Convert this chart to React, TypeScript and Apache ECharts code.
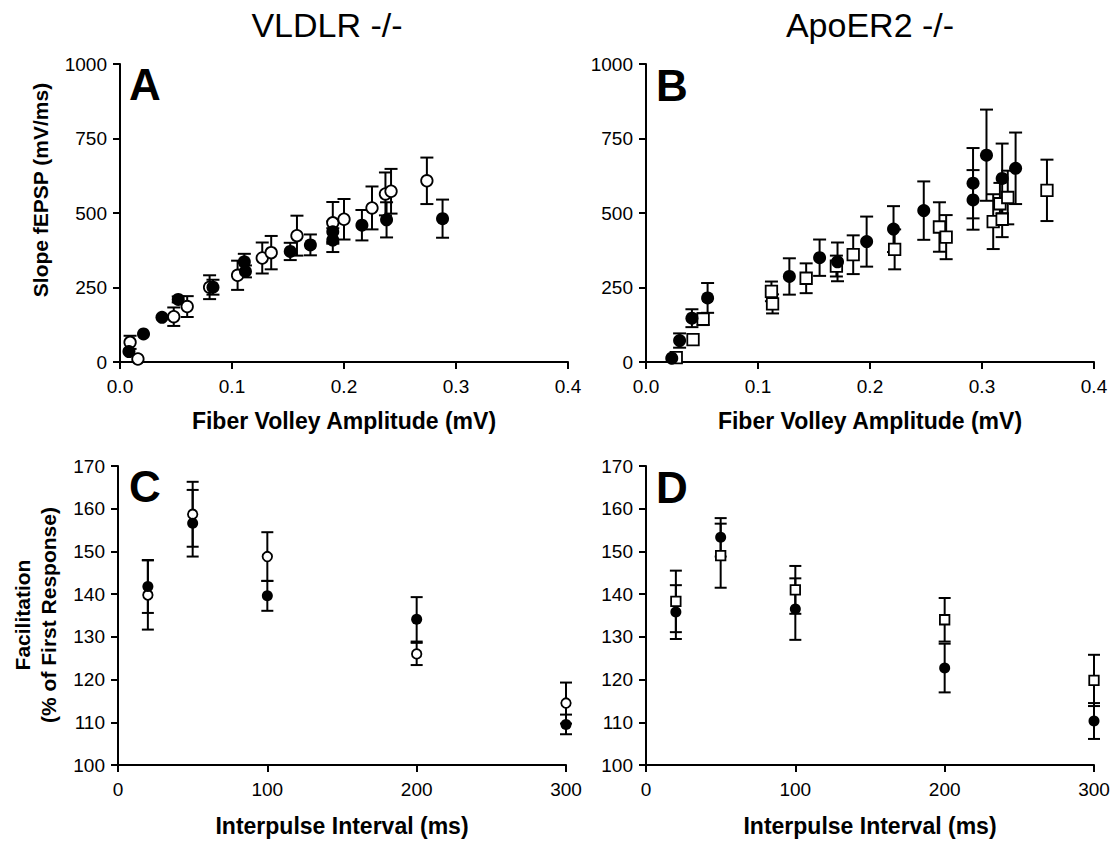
import React, { useEffect, useRef } from 'react';
import * as echarts from 'echarts';

const FONT = '"Liberation Sans", Arial, Helvetica, sans-serif';

// ---- Panel A (VLDLR -/-): Slope fEPSP vs Fiber Volley Amplitude ----
const aFilledX = [0.008, 0.021, 0.0375, 0.052, 0.083, 0.111, 0.112, 0.152, 0.170, 0.190, 0.190, 0.216, 0.238, 0.288];
const aFilledY = [35, 94, 150, 210, 251, 336, 304, 371, 393, 409, 437, 459, 477, 481];
const aFilledErr = [0, 0, 0, 10, 25, 27, 20, 29, 35, 40, 35, 51, 59, 64];

const aOpenX = [0.009, 0.016, 0.048, 0.060, 0.080, 0.105, 0.127, 0.135, 0.158, 0.190, 0.200, 0.225, 0.237, 0.242, 0.274];
const aOpenY = [66, 10, 152, 186, 251, 291, 349, 367, 424, 467, 479, 517, 564, 573, 608];
const aOpenErr = [22, 0, 31, 35, 40, 49, 52, 56, 67, 70, 68, 72, 72, 75, 78];

// ---- Panel B (ApoER2 -/-) ----
const bFilledX = [0.023, 0.030, 0.041, 0.055, 0.128, 0.155, 0.171, 0.197, 0.221, 0.248, 0.292, 0.292, 0.304, 0.318, 0.330];
const bFilledY = [13, 72, 147, 215, 287, 350, 336, 404, 446, 508, 600, 544, 694, 616, 650];
const bFilledErr = [0, 24, 30, 50, 61, 61, 65, 84, 77, 98, 118, 100, 153, 117, 120];

const bOpenX = [0.027, 0.042, 0.051, 0.112, 0.113, 0.143, 0.170, 0.185, 0.222, 0.262, 0.268, 0.310, 0.316, 0.318, 0.323, 0.358];
const bOpenY = [15, 75, 144, 237, 195, 281, 322, 360, 378, 453, 419, 471, 531, 479, 552, 576];
const bOpenErr = [0, 0, 20, 33, 32, 50, 35, 65, 67, 83, 74, 92, 70, 60, 90, 103];

// ---- Panels C and D: Facilitation vs Interpulse Interval ----
const intervals = [20, 50, 100, 200, 300];
const cFilled = [141.8, 156.6, 139.6, 134.1, 109.5];
const cFilledErr = [6.2, 7.8, 3.5, 5.2, 2.3];
const cOpen = [139.8, 158.7, 148.8, 126.0, 114.5];
const cOpenErr = [8.1, 7.6, 5.7, 2.6, 4.8];
const dFilled = [135.8, 153.3, 136.5, 122.7, 110.3];
const dFilledErr = [6.3, 4.5, 7.2, 5.7, 4.2];
const dOpen = [138.3, 149.0, 141.0, 134.0, 119.8];
const dOpenErr = [7.2, 7.5, 5.6, 5.1, 6.0];

const fvTicks = [0, 0.1, 0.2, 0.3, 0.4];
const slopeTicks = [0, 250, 500, 750, 1000];
const ipiTicks = [0, 100, 200, 300];
const facTicks = [100, 110, 120, 130, 140, 150, 160, 170];

function errSeries(gi: number, xs: number[], ys: number[], es: number[], cap: number) {
  return {
    type: 'custom',
    xAxisIndex: gi,
    yAxisIndex: gi,
    z: 2,
    silent: true,
    clip: false,
    encode: { x: 0, y: 1 },
    data: xs.map((x, i) => [x, ys[i], es[i]]),
    renderItem: (_p: any, api: any) => {
      const xv = api.value(0);
      const yv = api.value(1);
      const ev = api.value(2);
      if (!ev) return null;
      const t = api.coord([xv, yv + ev]);
      const b = api.coord([xv, yv - ev]);
      const h = cap / 2;
      const style = { stroke: '#000', lineWidth: 2, fill: null };
      return {
        type: 'group',
        children: [
          { type: 'line', shape: { x1: t[0], y1: t[1], x2: b[0], y2: b[1] }, style },
          { type: 'line', shape: { x1: t[0] - h, y1: t[1], x2: t[0] + h, y2: t[1] }, style },
          { type: 'line', shape: { x1: b[0] - h, y1: b[1], x2: b[0] + h, y2: b[1] }, style },
        ],
      };
    },
  };
}

function markSeries(gi: number, xs: number[], ys: number[], symbol: string, filled: boolean, size: number) {
  return {
    type: 'scatter',
    xAxisIndex: gi,
    yAxisIndex: gi,
    z: 3,
    clip: false,
    symbol,
    symbolSize: filled ? size : size - 1.5,
    data: xs.map((x, i) => [x, ys[i]]),
    itemStyle: filled
      ? { color: '#000', borderWidth: 0, opacity: 1 }
      : { color: '#fff', borderColor: '#000', borderWidth: 1.8, opacity: 1 },
  };
}

function xAxis(gi: number, ticks: number[], name: string, fmt: (v: number) => string, gap: number) {
  return {
    type: 'value',
    gridIndex: gi,
    min: ticks[0],
    max: ticks[ticks.length - 1],
    interval: ticks[1] - ticks[0],
    name,
    nameLocation: 'middle',
    nameGap: gap,
    nameTextStyle: { color: '#000', fontSize: 23, fontWeight: 'bold', fontFamily: FONT },
    axisLine: { show: true, onZero: false, lineStyle: { color: '#000', width: 2 } },
    axisTick: { show: true, inside: false, length: 7, lineStyle: { color: '#000', width: 2 } },
    axisLabel: { color: '#000', fontSize: 19, fontFamily: FONT, margin: 15, formatter: fmt },
    splitLine: { show: false },
  };
}

function yAxis(gi: number, ticks: number[]) {
  return {
    type: 'value',
    gridIndex: gi,
    min: ticks[0],
    max: ticks[ticks.length - 1],
    interval: ticks[1] - ticks[0],
    axisLine: { show: true, onZero: false, lineStyle: { color: '#000', width: 2 } },
    axisTick: { show: true, inside: false, length: 7, lineStyle: { color: '#000', width: 2 } },
    axisLabel: { color: '#000', fontSize: 19, fontFamily: FONT, margin: 13, formatter: (v: number) => String(v) },
    splitLine: { show: false },
  };
}

function txt(x: number, y: number, text: string, size: number, weight: string, align: string, rotation = 0) {
  return {
    type: 'text',
    x,
    y,
    rotation,
    style: {
      text,
      fill: '#000',
      font: `${weight} ${size}px ${FONT}`,
      fontSize: size,
      fontWeight: weight,
      fontFamily: FONT,
      textAlign: align,
      align,
      textVerticalAlign: 'middle',
      verticalAlign: 'middle',
    },
  };
}

export default function App() {
  const ref = useRef<HTMLDivElement>(null);
  useEffect(() => {
    if (!ref.current) return;
    const chart = echarts.init(ref.current, undefined, { renderer: 'svg' });
    const fv = (v: number) => v.toFixed(1);
    const plain = (v: number) => String(v);
    chart.setOption({
      animation: false,
      backgroundColor: '#fff',
      grid: [
        { left: 120, top: 64, width: 448, height: 298 },
        { left: 646, top: 64, width: 448, height: 298 },
        { left: 118, top: 466, width: 448, height: 299 },
        { left: 646, top: 466, width: 448, height: 299 },
      ],
      xAxis: [
        xAxis(0, fvTicks, 'Fiber Volley Amplitude (mV)', fv, 47),
        xAxis(1, fvTicks, 'Fiber Volley Amplitude (mV)', fv, 47),
        xAxis(2, ipiTicks, 'Interpulse Interval (ms)', plain, 49),
        xAxis(3, ipiTicks, 'Interpulse Interval (ms)', plain, 49),
      ],
      yAxis: [yAxis(0, slopeTicks), yAxis(1, slopeTicks), yAxis(2, facTicks), yAxis(3, facTicks)],
      series: [
        errSeries(0, aOpenX, aOpenY, aOpenErr, 13),
        errSeries(0, aFilledX, aFilledY, aFilledErr, 13),
        markSeries(0, aOpenX, aOpenY, 'circle', false, 13),
        markSeries(0, aFilledX, aFilledY, 'circle', true, 13),

        errSeries(1, bOpenX, bOpenY, bOpenErr, 13),
        errSeries(1, bFilledX, bFilledY, bFilledErr, 13),
        markSeries(1, bOpenX, bOpenY, 'rect', false, 13),
        markSeries(1, bFilledX, bFilledY, 'circle', true, 13),

        errSeries(2, intervals, cOpen, cOpenErr, 12),
        errSeries(2, intervals, cFilled, cFilledErr, 12),
        markSeries(2, intervals, cOpen, 'circle', false, 11),
        markSeries(2, intervals, cFilled, 'circle', true, 11),

        errSeries(3, intervals, dOpen, dOpenErr, 12),
        errSeries(3, intervals, dFilled, dFilledErr, 12),
        markSeries(3, intervals, dOpen, 'rect', false, 11),
        markSeries(3, intervals, dFilled, 'circle', true, 11),
      ],
      graphic: [
        txt(327, 25, 'VLDLR -/-', 34, 'normal', 'center'),
        txt(870, 25, 'ApoER2 -/-', 34, 'normal', 'center'),
        txt(129, 84, 'A', 44, 'bold', 'left'),
        txt(656, 85, 'B', 44, 'bold', 'left'),
        txt(129, 486, 'C', 44, 'bold', 'left'),
        txt(656, 487, 'D', 44, 'bold', 'left'),
        txt(40, 190, 'Slope fEPSP (mV/ms)', 21, 'bold', 'center', Math.PI / 2),
        txt(22, 615, 'Facilitation', 21, 'bold', 'center', Math.PI / 2),
        txt(48, 615, '(% of First Response)', 21, 'bold', 'center', Math.PI / 2),
      ],
    });
    return () => chart.dispose();
  }, []);
  return (
    <div
      ref={ref}
      style={{ position: 'fixed', left: 0, top: 0, width: 1113, height: 841, background: '#fff' }}
    />
  );
}
